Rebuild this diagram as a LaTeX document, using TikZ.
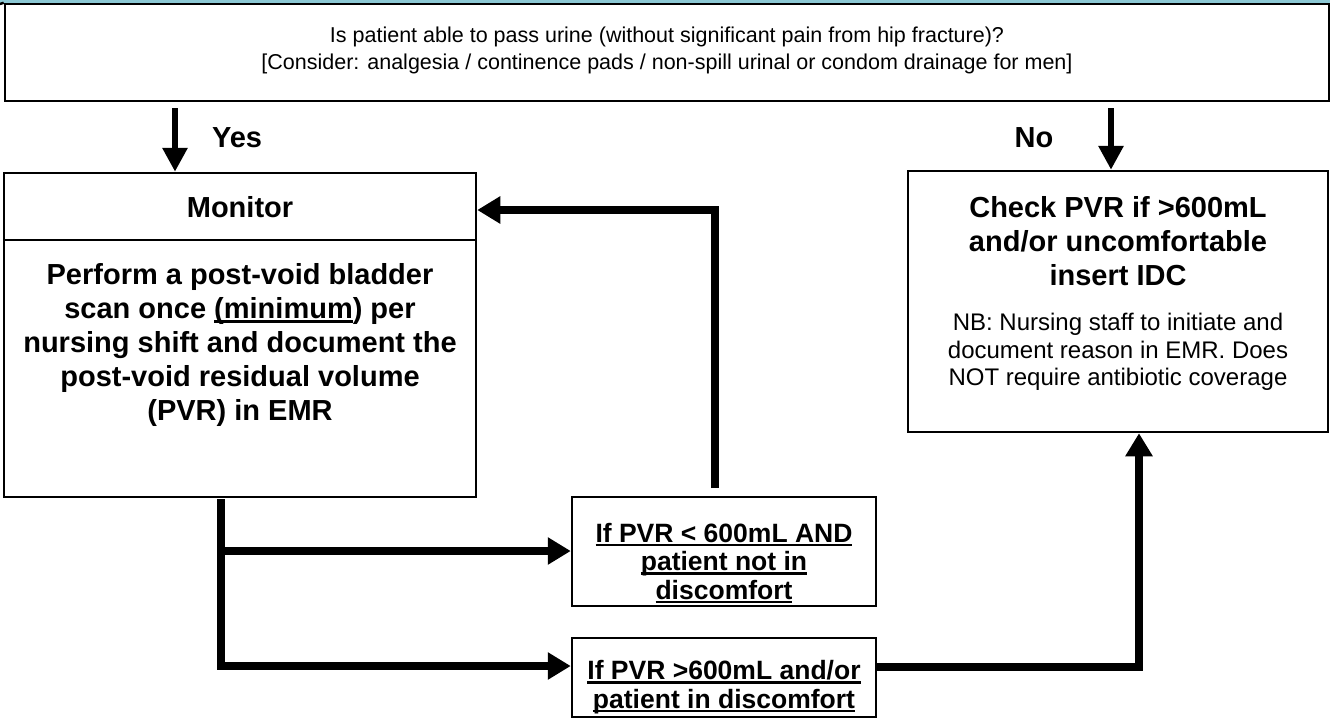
\documentclass[tikz,border=0pt]{standalone}
\usepackage{fontspec}
\setmainfont{Liberation Sans}
\usetikzlibrary{arrows.meta}
\definecolor{bandteal}{RGB}{140,200,212}
\newcommand{\myul}[1]{\sbox0{#1}\rlap{\rule[-4pt]{\wd0}{2.2pt}}\usebox0}
\begin{document}
\begin{tikzpicture}[x=1pt,y=-1pt,
  box/.style={draw, line width=2.5pt, inner sep=0pt},
  fat/.style={line width=7.5pt, line join=miter, -{Triangle[width=26pt,length=23pt]}},
  med/.style={line width=6pt, -{Triangle[width=24pt,length=24pt]}},
  head/.style={font=\bfseries\fontsize{29}{34}\selectfont, align=center},
  small/.style={font=\fontsize{24}{27.5}\selectfont, align=center},
  cond/.style={font=\bfseries\fontsize{26.5}{28.5}\selectfont, align=center},
  qtext/.style={font=\fontsize{21.5}{27}\selectfont, align=center}]
\useasboundingbox (0,0) rectangle (1330,718);
\fill[bandteal] (0,0) rectangle (1330,3);
% boxes
\node[box, minimum width=1324pt, minimum height=97pt] (top) at (667,52.5) {};
\draw[line width=2.5pt] (0,4) -- (top.north west);
\node[box, minimum width=472pt, minimum height=324pt] (mon) at (240,335) {};
\node[box, minimum width=420pt, minimum height=261pt] (chk) at (1118,301.5) {};
\node[box, minimum width=304pt, minimum height=109pt] (b1) at (724,551.5) {};
\node[box, minimum width=304pt, minimum height=79pt] (b2) at (724,677.5) {};
\coordinate (divy) at (0,240);
\draw[line width=2.5pt] (mon.west |- divy) -- (mon.east |- divy);
% texts
\node[qtext] (q) at (667,50) {Is patient able to pass urine (without significant pain from hip fracture)?\\ {[}Consider: analgesia / continence pads / non-spill urinal or condom drainage for men{]}};
\node[head] (yes) at (237,138) {Yes};
\node[head] (no) at (1034,138) {No};
\node[head] (montitle) at (240,207) {Monitor};
\node[head] (monbody) at (240,345) {Perform a post-void bladder\\scan once \myul{(minimum}) per\\nursing shift and document the\\post-void residual volume\\(PVR) in EMR};
\node[head] (chktitle) at (1118,241) {Check PVR if >600mL\\and/or uncomfortable\\insert IDC};
\node[small] (chknb) at (1118,352) {NB: Nursing staff to initiate and\\document reason in EMR. Does\\NOT require antibiotic coverage};
\node[cond] (b1text) at (724,563) {\myul{If PVR < 600mL AND}\\\myul{patient not in}\\\myul{discomfort}};
\node[cond] (b2text) at (724,687) {\myul{If PVR >600mL and/or}\\\myul{patient in discomfort}};
% connectors
\coordinate (yestop) at (175,108);
\coordinate (notop) at (1111,108);
\draw[med] (yestop) -- (yestop |- mon.north);
\draw[med] (notop) -- (notop |- chk.north);
\coordinate (fbstart) at (715,488);
\coordinate (fbturn) at (715,210);
\draw[fat] (fbstart) -- (fbturn) -- (mon.east |- fbturn);
\coordinate (split) at (221,499);
\coordinate (b1y) at (221,551);
\coordinate (b2y) at (221,666);
\draw[fat] (split) -- (b2y) -- (b2.west |- b2y);
\draw[fat] (b1y) -- (b1.west |- b1y);
\coordinate (rc) at (1139,667);
\draw[fat] (b2.east |- rc) -- (rc) -- (chk.south -| rc);
\end{tikzpicture}
\end{document}
